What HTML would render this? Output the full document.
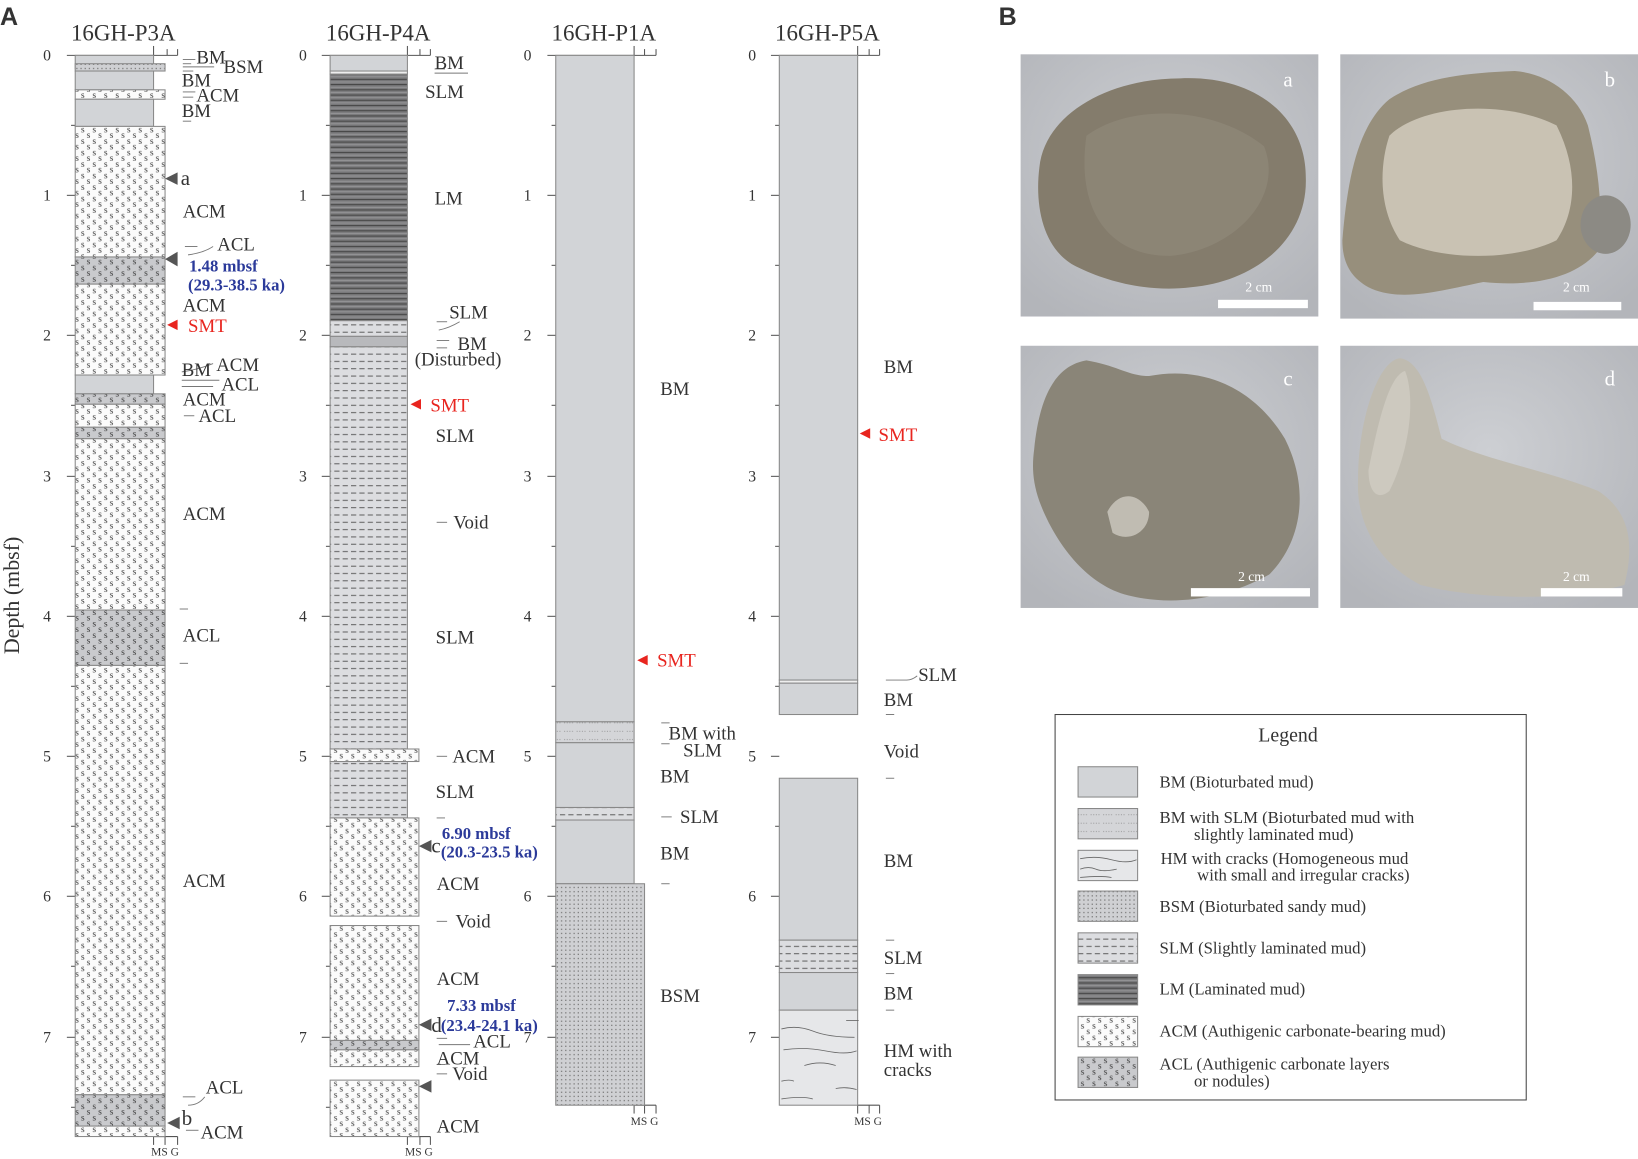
<!DOCTYPE html>
<html><head><meta charset="utf-8"><style>
html,body{margin:0;padding:0;background:#fff;}
svg{display:block;}
text{font-family:"Liberation Serif",serif;fill:#333;}
</style></head><body>
<svg width="1638" height="1159" viewBox="0 0 1568 1109.5" preserveAspectRatio="none" xmlns="http://www.w3.org/2000/svg">
<defs>
<pattern id="acm" width="11" height="11" patternUnits="userSpaceOnUse">
<rect width="11" height="11" fill="#fbfbfb"/>
<text x="0.5" y="5.5" font-size="9" fill="#555" font-family="Liberation Serif,serif">s</text>
<text x="6" y="11" font-size="9" fill="#555" font-family="Liberation Serif,serif">s</text>
</pattern>
<pattern id="acl" width="11" height="11" patternUnits="userSpaceOnUse">
<rect width="11" height="11" fill="#c9cacd"/>
<text x="0.5" y="5.5" font-size="9" fill="#444" font-family="Liberation Serif,serif">s</text>
<text x="6" y="11" font-size="9" fill="#444" font-family="Liberation Serif,serif">s</text>
</pattern>
<pattern id="slm" width="8" height="7" patternUnits="userSpaceOnUse">
<rect width="8" height="7" fill="#dcdde0"/>
<line x1="0" y1="3" x2="5" y2="3" stroke="#555" stroke-width="0.9"/>
</pattern>
<pattern id="lm" width="10" height="5" patternUnits="userSpaceOnUse">
<rect width="10" height="5" fill="#7a7a7c"/>
<line x1="0" y1="1" x2="10" y2="1" stroke="#444" stroke-width="1"/>
<line x1="0" y1="3.5" x2="10" y2="3.5" stroke="#9a9a9c" stroke-width="0.8"/>
</pattern>
<pattern id="bsm" width="4" height="4" patternUnits="userSpaceOnUse">
<rect width="4" height="4" fill="#cfd0d3"/>
<rect x="1" y="1" width="1.2" height="1.2" fill="#777"/>
</pattern>
<pattern id="bmslm" width="12" height="8" patternUnits="userSpaceOnUse">
<rect width="12" height="8" fill="#d4d5d8"/>
<line x1="0" y1="4" x2="9" y2="4" stroke="#888" stroke-width="0.8" stroke-dasharray="1,1.5"/>
</pattern>
<radialGradient id="bg" cx="50%" cy="40%" r="70%"><stop offset="0" stop-color="#cdcfd3"/><stop offset="1" stop-color="#b3b5ba"/></radialGradient>
</defs>

<text x="0" y="24" font-size="24" font-weight="bold" fill="#000" style="font-family:'Liberation Sans',sans-serif">A</text>
<text x="956" y="24" font-size="24" font-weight="bold" fill="#000" style="font-family:'Liberation Sans',sans-serif">B</text>
<text transform="translate(18,570) rotate(-90)" font-size="21" text-anchor="middle">Depth (mbsf)</text>

<text x="118" y="39" font-size="22" text-anchor="middle">16GH-P3A</text>
<text x="362" y="39" font-size="22" text-anchor="middle">16GH-P4A</text>
<text x="578" y="39" font-size="22" text-anchor="middle">16GH-P1A</text>
<text x="792" y="39" font-size="22" text-anchor="middle">16GH-P5A</text>

<g stroke="#555" stroke-width="1" fill="none">
<line x1="64" y1="53" x2="170" y2="53"/><line x1="147" y1="53" x2="147" y2="44"/><line x1="160" y1="53" x2="160" y2="47"/><line x1="170" y1="53" x2="170" y2="47"/>
<line x1="64" y1="187" x2="72" y2="187"/><line x1="64" y1="321" x2="72" y2="321"/><line x1="64" y1="456" x2="72" y2="456"/><line x1="64" y1="590" x2="72" y2="590"/><line x1="64" y1="724" x2="72" y2="724"/><line x1="64" y1="858" x2="72" y2="858"/><line x1="64" y1="993" x2="72" y2="993"/>
<line x1="68" y1="120" x2="72" y2="120"/><line x1="68" y1="254" x2="72" y2="254"/><line x1="68" y1="388" x2="72" y2="388"/><line x1="68" y1="523" x2="72" y2="523"/><line x1="68" y1="657" x2="72" y2="657"/><line x1="68" y1="791" x2="72" y2="791"/><line x1="68" y1="925" x2="72" y2="925"/><line x1="68" y1="1060" x2="72" y2="1060"/>
<line x1="147" y1="1088" x2="147" y2="1096"/><line x1="158" y1="1088" x2="158" y2="1096"/><line x1="170" y1="1088" x2="170" y2="1096"/><line x1="147" y1="1088" x2="170" y2="1088"/>
<line x1="308" y1="53" x2="412" y2="53"/><line x1="390" y1="53" x2="390" y2="44"/><line x1="402" y1="53" x2="402" y2="47"/><line x1="412" y1="53" x2="412" y2="47"/>
<line x1="308" y1="187" x2="316" y2="187"/><line x1="308" y1="321" x2="316" y2="321"/><line x1="308" y1="456" x2="316" y2="456"/><line x1="308" y1="590" x2="316" y2="590"/><line x1="308" y1="724" x2="316" y2="724"/><line x1="308" y1="858" x2="316" y2="858"/><line x1="308" y1="993" x2="316" y2="993"/>
<line x1="312" y1="120" x2="316" y2="120"/><line x1="312" y1="254" x2="316" y2="254"/><line x1="312" y1="388" x2="316" y2="388"/><line x1="312" y1="523" x2="316" y2="523"/><line x1="312" y1="657" x2="316" y2="657"/><line x1="312" y1="791" x2="316" y2="791"/><line x1="312" y1="925" x2="316" y2="925"/><line x1="312" y1="1060" x2="316" y2="1060"/>
<line x1="390" y1="1088" x2="390" y2="1096"/><line x1="402" y1="1088" x2="402" y2="1096"/><line x1="412" y1="1088" x2="412" y2="1096"/><line x1="390" y1="1088" x2="412" y2="1088"/>
<line x1="524" y1="53" x2="628" y2="53"/><line x1="607" y1="53" x2="607" y2="44"/><line x1="617" y1="53" x2="617" y2="47"/><line x1="628" y1="53" x2="628" y2="47"/>
<line x1="524" y1="187" x2="532" y2="187"/><line x1="524" y1="321" x2="532" y2="321"/><line x1="524" y1="456" x2="532" y2="456"/><line x1="524" y1="590" x2="532" y2="590"/><line x1="524" y1="724" x2="532" y2="724"/><line x1="524" y1="858" x2="532" y2="858"/><line x1="524" y1="993" x2="532" y2="993"/>
<line x1="528" y1="120" x2="532" y2="120"/><line x1="528" y1="254" x2="532" y2="254"/><line x1="528" y1="388" x2="532" y2="388"/><line x1="528" y1="523" x2="532" y2="523"/><line x1="528" y1="657" x2="532" y2="657"/><line x1="528" y1="791" x2="532" y2="791"/><line x1="528" y1="925" x2="532" y2="925"/>
<line x1="607" y1="1058" x2="607" y2="1066"/><line x1="617" y1="1058" x2="617" y2="1066"/><line x1="628" y1="1058" x2="628" y2="1066"/><line x1="607" y1="1058" x2="628" y2="1058"/>
<line x1="738" y1="53" x2="842" y2="53"/><line x1="821" y1="53" x2="821" y2="44"/><line x1="832" y1="53" x2="832" y2="47"/><line x1="842" y1="53" x2="842" y2="47"/>
<line x1="738" y1="187" x2="746" y2="187"/><line x1="738" y1="321" x2="746" y2="321"/><line x1="738" y1="456" x2="746" y2="456"/><line x1="738" y1="590" x2="746" y2="590"/><line x1="738" y1="724" x2="746" y2="724"/><line x1="738" y1="858" x2="746" y2="858"/><line x1="738" y1="993" x2="746" y2="993"/>
<line x1="742" y1="120" x2="746" y2="120"/><line x1="742" y1="254" x2="746" y2="254"/><line x1="742" y1="388" x2="746" y2="388"/><line x1="742" y1="523" x2="746" y2="523"/><line x1="742" y1="657" x2="746" y2="657"/><line x1="742" y1="791" x2="746" y2="791"/><line x1="742" y1="925" x2="746" y2="925"/>
<line x1="821" y1="1058" x2="821" y2="1066"/><line x1="832" y1="1058" x2="832" y2="1066"/><line x1="842" y1="1058" x2="842" y2="1066"/><line x1="821" y1="1058" x2="842" y2="1058"/>
</g>

<g font-size="15" text-anchor="middle">
<text x="45" y="58">0</text><text x="45" y="192">1</text><text x="45" y="326">2</text><text x="45" y="461">3</text><text x="45" y="595">4</text><text x="45" y="729">5</text><text x="45" y="863">6</text><text x="45" y="998">7</text>
<text x="290" y="58">0</text><text x="290" y="192">1</text><text x="290" y="326">2</text><text x="290" y="461">3</text><text x="290" y="595">4</text><text x="290" y="729">5</text><text x="290" y="863">6</text><text x="290" y="998">7</text>
<text x="505" y="58">0</text><text x="505" y="192">1</text><text x="505" y="326">2</text><text x="505" y="461">3</text><text x="505" y="595">4</text><text x="505" y="729">5</text><text x="505" y="863">6</text><text x="505" y="998">7</text>
<text x="720" y="58">0</text><text x="720" y="192">1</text><text x="720" y="326">2</text><text x="720" y="461">3</text><text x="720" y="595">4</text><text x="720" y="729">5</text><text x="720" y="863">6</text><text x="720" y="998">7</text>
</g>
<g font-size="11" text-anchor="middle">
<text x="158" y="1106">MS G</text><text x="401" y="1106">MS G</text><text x="617" y="1077">MS G</text><text x="831" y="1077">MS G</text>
</g>

<g stroke="#888" stroke-width="1">
<rect x="72" y="53" width="75" height="13" fill="#d2d4d7"/>
<rect x="72" y="61" width="86" height="7" fill="url(#bsm)"/>
<rect x="72" y="68" width="75" height="18" fill="#d2d4d7"/>
<rect x="72" y="86" width="86" height="9" fill="url(#acm)"/>
<rect x="72" y="95" width="75" height="26" fill="#d2d4d7"/>
<rect x="72" y="121" width="86" height="125" fill="url(#acm)"/>
<rect x="72" y="246" width="86" height="26" fill="url(#acl)"/>
<rect x="72" y="272" width="86" height="87" fill="url(#acm)"/>
<rect x="72" y="359" width="75" height="18" fill="#d2d4d7"/>
<rect x="72" y="377" width="86" height="10" fill="url(#acl)"/>
<rect x="72" y="387" width="86" height="22" fill="url(#acm)"/>
<rect x="72" y="409" width="86" height="11" fill="url(#acl)"/>
<rect x="72" y="420" width="86" height="164" fill="url(#acm)"/>
<rect x="72" y="584" width="86" height="53" fill="url(#acl)"/>
<rect x="72" y="637" width="86" height="411" fill="url(#acm)"/>
<rect x="72" y="1048" width="86" height="30" fill="url(#acl)"/>
<rect x="72" y="1078" width="86" height="10" fill="url(#acm)"/>
</g>

<g stroke="#888" stroke-width="1">
<rect x="316" y="53" width="74" height="15" fill="#d2d4d7"/>
<rect x="316" y="68" width="74" height="3" fill="#eee"/>
<rect x="316" y="71" width="74" height="236" fill="url(#lm)"/>
<rect x="316" y="307" width="74" height="15" fill="url(#slm)"/>
<rect x="316" y="322" width="74" height="10" fill="#b8b9bc"/>
<rect x="316" y="332" width="74" height="385" fill="url(#slm)"/>
<rect x="316" y="717" width="85" height="12" fill="url(#acm)"/>
<rect x="316" y="729" width="74" height="54" fill="url(#slm)"/>
<rect x="316" y="783" width="85" height="94" fill="url(#acm)"/>
<rect x="316" y="886" width="85" height="110" fill="url(#acm)"/>
<rect x="316" y="996" width="85" height="9" fill="url(#acl)"/>
<rect x="316" y="1005" width="85" height="16" fill="url(#acm)"/>
<rect x="316" y="1034" width="85" height="54" fill="url(#acm)"/>
</g>

<g stroke="#888" stroke-width="1">
<rect x="532" y="53" width="75" height="638" fill="#d2d4d7"/>
<rect x="532" y="691" width="75" height="20" fill="url(#bmslm)"/>
<rect x="532" y="711" width="75" height="62" fill="#d2d4d7"/>
<rect x="532" y="773" width="75" height="12" fill="url(#slm)"/>
<rect x="532" y="785" width="75" height="61" fill="#d2d4d7"/>
<rect x="532" y="846" width="85" height="212" fill="url(#bsm)"/>
</g>

<g stroke="#888" stroke-width="1">
<rect x="746" y="53" width="75" height="598" fill="#d2d4d7"/>
<rect x="746" y="651" width="75" height="3" fill="#eee"/>
<rect x="746" y="654" width="75" height="30" fill="#d2d4d7"/>
<rect x="746" y="745" width="75" height="155" fill="#d2d4d7"/>
<rect x="746" y="900" width="75" height="31" fill="url(#slm)"/>
<rect x="746" y="931" width="75" height="36" fill="#d2d4d7"/>
<rect x="746" y="967" width="75" height="91" fill="#e6e7e9"/>
</g>
<g stroke="#666" stroke-width="0.8" fill="none">
<path d="M748 985 q15 -4 30 2 t40 6"/><path d="M750 1005 q20 -3 40 1 t30 0"/><path d="M770 1020 q15 -5 30 0"/><path d="M748 1035 q8 -2 12 0"/><path d="M800 1042 q10 -2 20 1"/><path d="M748 1052 q20 -3 30 0"/><path d="M810 977 h12"/>
</g>

<g stroke="#777" stroke-width="0.9" fill="none">
<path d="M175 57 h12"/><path d="M175 61 h8"/><path d="M175 64 h30"/><path d="M175 88 h12"/><path d="M175 93 h10"/>
<path d="M175 68 h10"/><path d="M175 116 h8"/>
<path d="M177 236 h12"/><path d="M180 244 q15 -2 24 -8"/>
<path d="M174 356 q15 -2 30 -8"/><path d="M174 364 h36"/><path d="M174 370 h30"/><path d="M176 398 h10"/>
<path d="M172 583 h8"/><path d="M172 635 h8"/>
<path d="M175 1050 h12"/><path d="M180 1058 q10 0 16 -8"/><path d="M178 1082 h12"/>
<path d="M416 66 h10"/><path d="M416 70 h32"/>
<path d="M418 308 h10"/><path d="M420 316 q10 -2 20 -8"/><path d="M418 326 h12"/><path d="M418 333 h10"/>
<path d="M418 500 h10"/><path d="M418 724 h10"/><path d="M418 783 h8"/>
<path d="M418 882 h10"/><path d="M418 994 h10"/><path d="M420 1000 h30"/><path d="M418 1028 h10"/><path d="M418 1019 h8"/>
<path d="M633 692 h8"/><path d="M633 712 h8"/><path d="M633 782 h10"/><path d="M633 846 h8"/>
<path d="M848 651 h20 q5 0 10 -4"/><path d="M848 684 h8"/><path d="M848 745 h8"/><path d="M848 900 h8"/><path d="M848 932 h8"/><path d="M848 967 h8"/>
</g>

<g fill="#555">
<polygon points="158,171 170,165 170,177"/>
<polygon points="158,248 170,241 170,255"/>
<polygon points="160,1075 172,1069 172,1081"/>
<polygon points="401,810 413,804 413,816"/>
<polygon points="401,981 413,975 413,987"/>
<polygon points="401,1040 413,1034 413,1046"/>
</g>
<g fill="#e8251f">
<polygon points="160,311 170,306 170,316"/>
<polygon points="393,387 403,382 403,392"/>
<polygon points="610,632 620,627 620,637"/>
<polygon points="823,415 833,410 833,420"/>
</g>

<g font-size="18">
<text x="188" y="61">BM</text><text x="214" y="70">BSM</text><text x="174" y="83">BM</text><text x="188" y="97">ACM</text><text x="174" y="112">BM</text>
<text x="173" y="177" font-size="20">a</text>
<text x="175" y="208">ACM</text><text x="208" y="240">ACL</text><text x="175" y="298">ACM</text>
<text x="180" y="318" style="fill:#e8251f">SMT</text>
<text x="174" y="360">BM</text><text x="207" y="355">ACM</text><text x="212" y="374">ACL</text><text x="175" y="388">ACM</text><text x="190" y="404">ACL</text>
<text x="175" y="498">ACM</text><text x="175" y="614">ACL</text><text x="175" y="849">ACM</text><text x="197" y="1047">ACL</text>
<text x="174" y="1077" font-size="20">b</text><text x="192" y="1090">ACM</text>

<text x="416" y="66">BM</text><text x="407" y="94">SLM</text><text x="416" y="196">LM</text>
<text x="430" y="305">SLM</text><text x="438" y="335">BM</text><text x="397" y="350">(Disturbed)</text>
<text x="412" y="394" style="fill:#e8251f">SMT</text>
<text x="417" y="423">SLM</text><text x="434" y="506">Void</text><text x="417" y="616">SLM</text><text x="433" y="730">ACM</text><text x="417" y="764">SLM</text>
<text x="413" y="816" font-size="20">c</text>
<text x="418" y="852">ACM</text><text x="436" y="888">Void</text><text x="418" y="943">ACM</text>
<text x="413" y="988" font-size="20">d</text>
<text x="453" y="1003">ACL</text><text x="418" y="1019">ACM</text><text x="433" y="1034">Void</text><text x="418" y="1084">ACM</text>

<text x="632" y="378">BM</text><text x="629" y="638" style="fill:#e8251f">SMT</text>
<text x="640" y="708">BM with</text><text x="654" y="724">SLM</text>
<text x="632" y="749">BM</text><text x="651" y="788">SLM</text><text x="632" y="823">BM</text><text x="632" y="959">BSM</text>

<text x="846" y="357">BM</text><text x="841" y="422" style="fill:#e8251f">SMT</text>
<text x="879" y="652">SLM</text><text x="846" y="676">BM</text><text x="846" y="725">Void</text><text x="846" y="830">BM</text>
<text x="846" y="923">SLM</text><text x="846" y="957">BM</text><text x="846" y="1012">HM with</text><text x="846" y="1030">cracks</text>
</g>
<g font-size="16" font-weight="bold">
<text x="181" y="260" style="fill:#2b3a9a">1.48 mbsf</text><text x="180" y="278" style="fill:#2b3a9a">(29.3-38.5 ka)</text>
<text x="423" y="803" style="fill:#2b3a9a">6.90 mbsf</text><text x="422" y="821" style="fill:#2b3a9a">(20.3-23.5 ka)</text>
<text x="428" y="968" style="fill:#2b3a9a">7.33 mbsf</text><text x="422" y="987" style="fill:#2b3a9a">(23.4-24.1 ka)</text>
</g>

<rect x="977" y="52" width="285" height="251" fill="url(#bg)"/>
<path d="M995 160 C1000 110 1060 75 1130 75 C1200 72 1250 110 1250 170 C1252 230 1200 270 1140 275 C1100 280 1060 270 1030 255 C1000 240 990 200 995 160Z" fill="#847c6c"/>
<path d="M1040 130 C1080 100 1160 100 1210 140 C1230 190 1180 240 1120 245 C1060 245 1030 200 1040 130Z" fill="#8f8778" opacity="0.8"/>
<rect x="1166" y="287" width="86" height="8" fill="#fff"/>
<text x="1205" y="279" font-size="13" text-anchor="middle" style="fill:#fff">2 cm</text>
<text x="1233" y="83" font-size="20" text-anchor="middle" style="fill:#fff">a</text>

<rect x="1283" y="52" width="285" height="253" fill="url(#bg)"/>
<path d="M1285 230 C1290 170 1300 120 1330 95 C1360 75 1400 70 1450 68 C1480 70 1510 90 1520 120 C1530 160 1535 200 1530 240 C1510 265 1470 275 1420 270 C1380 278 1340 290 1310 275 C1292 265 1285 250 1285 230Z" fill="#978f7c"/>
<path d="M1330 130 C1360 100 1440 95 1490 120 C1510 160 1510 200 1490 230 C1450 250 1380 250 1340 230 C1320 200 1320 160 1330 130Z" fill="#c9c2b3"/>
<ellipse cx="1537" cy="215" rx="24" ry="28" fill="#8c8a84"/>
<rect x="1468" y="289" width="84" height="8" fill="#fff"/>
<text x="1509" y="279" font-size="13" text-anchor="middle" style="fill:#fff">2 cm</text>
<text x="1541" y="83" font-size="20" text-anchor="middle" style="fill:#fff">b</text>

<rect x="977" y="331" width="285" height="251" fill="url(#bg)"/>
<path d="M990 430 C995 380 1010 350 1040 345 C1070 350 1080 360 1100 360 C1150 350 1200 370 1230 420 C1255 470 1245 520 1215 550 C1170 575 1120 580 1080 570 C1040 560 1010 520 995 480 C988 460 988 445 990 430Z" fill="#8a8578"/>
<path d="M1060 490 C1070 470 1090 470 1100 490 C1100 510 1080 520 1065 510Z" fill="#c0bcb2"/>
<rect x="1140" y="563" width="114" height="8" fill="#fff"/>
<text x="1198" y="556" font-size="13" text-anchor="middle" style="fill:#fff">2 cm</text>
<text x="1233" y="369" font-size="20" text-anchor="middle" style="fill:#fff">c</text>

<rect x="1283" y="331" width="285" height="251" fill="url(#bg)"/>
<path d="M1300 460 C1300 400 1320 345 1340 343 C1360 345 1370 380 1380 420 C1420 440 1480 450 1530 470 C1560 490 1565 520 1555 560 C1500 575 1420 575 1360 560 C1320 540 1298 500 1300 460Z" fill="#bfbbb0"/>
<path d="M1310 450 C1320 400 1330 360 1345 355 C1355 380 1350 430 1330 470 C1318 480 1310 470 1310 450Z" fill="#cdc9bf"/>
<rect x="1475" y="563" width="78" height="8" fill="#fff"/>
<text x="1509" y="556" font-size="13" text-anchor="middle" style="fill:#fff">2 cm</text>
<text x="1541" y="369" font-size="20" text-anchor="middle" style="fill:#fff">d</text>

<rect x="1010" y="684" width="451" height="369" fill="#fff" stroke="#444" stroke-width="1"/>
<text x="1233" y="710" font-size="19" text-anchor="middle">Legend</text>
<g stroke="#888" stroke-width="1">
<rect x="1032" y="734" width="57" height="29" fill="#d2d4d7"/>
<rect x="1032" y="774" width="57" height="29" fill="url(#bmslm)"/>
<rect x="1032" y="814" width="57" height="29" fill="#e6e7e9"/>
<rect x="1032" y="853" width="57" height="29" fill="url(#bsm)"/>
<rect x="1032" y="893" width="57" height="29" fill="url(#slm)"/>
<rect x="1032" y="933" width="57" height="29" fill="url(#lm)"/>
<rect x="1032" y="973" width="57" height="29" fill="url(#acm)"/>
<rect x="1032" y="1012" width="57" height="29" fill="url(#acl)"/>
</g>
<g stroke="#666" stroke-width="0.8" fill="none"><path d="M1034 822 q15 -3 30 1 t24 0"/><path d="M1034 832 q8 -3 15 0 t20 0"/><path d="M1034 840 q20 -2 30 0"/></g>
<g font-size="16">
<text x="1110" y="754">BM (Bioturbated mud)</text>
<text x="1110" y="788">BM with SLM (Bioturbated mud with</text>
<text x="1143" y="804">slightly laminated mud)</text>
<text x="1111" y="827">HM with cracks (Homogeneous mud</text>
<text x="1146" y="843">with small and irregular cracks)</text>
<text x="1110" y="873">BSM (Bioturbated sandy mud)</text>
<text x="1110" y="913">SLM (Slightly laminated mud)</text>
<text x="1110" y="952">LM (Laminated mud)</text>
<text x="1110" y="992">ACM (Authigenic carbonate-bearing mud)</text>
<text x="1110" y="1024">ACL (Authigenic carbonate layers</text>
<text x="1143" y="1040">or nodules)</text>
</g>
</svg>
</body></html>
